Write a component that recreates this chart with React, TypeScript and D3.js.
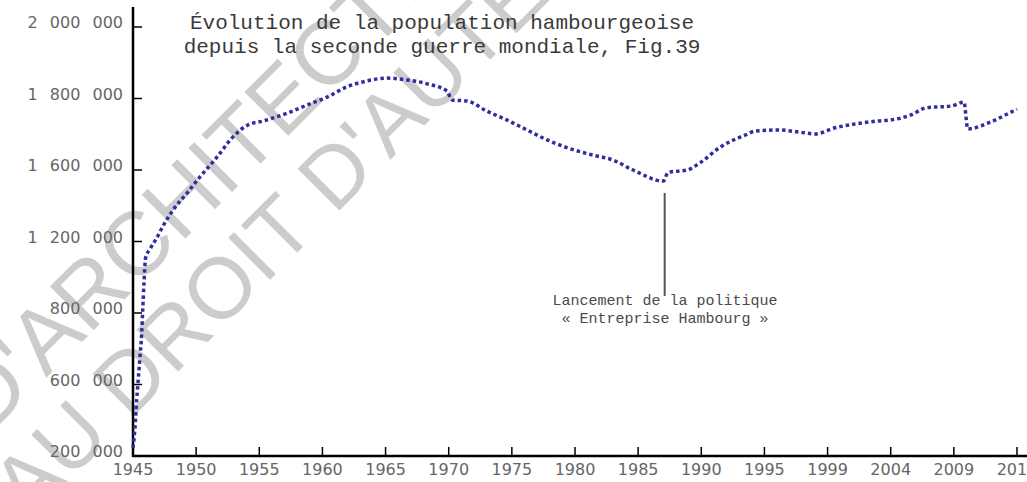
import React from 'react';
import * as d3 from 'd3';

const popYears = [
  1945.0, 1945.16, 1945.29, 1945.4, 1945.55, 1945.69, 1945.77, 1945.87, 1946.0, 1946.35,
  1946.88, 1947.38, 1948.17, 1949.28, 1950.3, 1951.65, 1952.9, 1954.1, 1955.3, 1957.2,
  1958.8, 1960.36, 1961.9, 1963.5, 1965.1, 1966.7, 1968.3, 1969.86, 1970.26, 1971.45,
  1973.0, 1974.6, 1976.2, 1977.8, 1979.4, 1981.4, 1983.0, 1984.6, 1987.0, 1987.36,
  1988.9, 1989.9, 1991.5, 1993.5, 1994.3, 1995.92, 1997.2, 1998.2, 1999.6, 2001.2,
  2003.0, 2004.0, 2005.6, 2006.8, 2008.8, 2009.8, 2010.1, 2011.9, 2013.7, 2014.0,
];
const popValues = [
  245000, 362000, 513000, 607000, 677000, 744000, 817000, 968000, 1108000, 1158000,
  1220000, 1287000, 1376000, 1471000, 1561000, 1636000, 1692000, 1726000, 1737000, 1759000,
  1782000, 1804000, 1832000, 1849000, 1857000, 1852000, 1841000, 1821000, 1796000, 1793000,
  1765000, 1740000, 1712000, 1684000, 1662000, 1642000, 1628000, 1600000, 1538000, 1586000,
  1600000, 1620000, 1664000, 1698000, 1709000, 1712000, 1706000, 1701000, 1718000, 1729000,
  1737000, 1740000, 1754000, 1774000, 1779000, 1790000, 1715000, 1734000, 1765000, 1770000,
];

const xTickYears = [1945, 1950, 1955, 1960, 1965, 1970, 1975, 1980, 1985, 1990, 1995, 1999, 2004, 2009, 2014];
const yTickValues = [200000, 600000, 800000, 1200000, 1600000, 1800000, 2000000];
const yTickLabels = ['200 000', '600 000', '800 000', '1 200 000', '1 600 000', '1 800 000', '2 000 000'];

const titleLines = [
  'Évolution de la population hambourgeoise',
  'depuis la seconde guerre mondiale, Fig.39',
];
const annotationYear = 1987.1;
const annotationLines = ['Lancement de la politique', '« Entreprise Hambourg »'];

const W = 1027;
const H = 482;
const left = 133;
const right = 1017;
const baseY = 456;
const topTickY = 27;

export default function App() {
  const x = d3
    .scaleLinear()
    .domain(xTickYears)
    .range(xTickYears.map((_, i) => left + (i * (right - left)) / (xTickYears.length - 1)));
  const y = d3
    .scaleLinear()
    .domain(yTickValues)
    .range(yTickValues.map((_, i) => baseY - (i * (baseY - topTickY)) / (yTickValues.length - 1)));

  const data = popYears.map((yr, i) => ({ yr, v: popValues[i] }));
  const line = d3
    .line<{ yr: number; v: number }>()
    .x((d) => x(d.yr))
    .y((d) => y(d.v))
    .curve(d3.curveMonotoneX);

  const ax = x(annotationYear);
  const wmFont = '"Liberation Sans", Arial, sans-serif';

  return (
    <svg
      width={W}
      height={H}
      style={{ position: 'absolute', left: 0, top: 0, background: '#fff' }}
      xmlns="http://www.w3.org/2000/svg"
    >
      <rect width={W} height={H} fill="#fff" />
      {/* watermark */}
      <g transform="translate(46,378) rotate(-45)" fill="#cccccc" fontFamily={wmFont}>
        <text x={0} y={0} textAnchor="end" fontSize={90}>ÉCOLE NATIONALE SUPÉRIEURE D'</text>
        <text x={0} y={0} textAnchor="start" fontSize={90}>ARCHITECTURE</text>
        <text x={5} y={89} textAnchor="end" fontSize={86}>DOCUMENT SOUMIS AU</text>
        <text x={29} y={89} textAnchor="start" fontSize={86}>DROIT D'AUTEUR</text>
      </g>

      {/* title */}
      <g fontFamily='"Liberation Mono", "Courier New", monospace' fontSize={21} fill="#3a3a3a" textAnchor="middle">
        {titleLines.map((t, i) => (
          <text key={i} x={442} y={29 + i * 24}>
            {t}
          </text>
        ))}
      </g>

      {/* axes */}
      <line x1={left} x2={left} y1={7} y2={baseY + 1} stroke="#000" strokeWidth={2.5} />
      <line x1={left - 1} x2={W} y1={baseY} y2={baseY} stroke="#000" strokeWidth={2.5} />
      {yTickValues.map((v, i) => (
        <g key={'y' + i}>
          <line x1={left} x2={left + 9} y1={y(v)} y2={y(v)} stroke="#000" strokeWidth={1.5} />
          <text
            x={123}
            y={y(v) + 1}
            textAnchor="end"
            fontFamily='"DejaVu Sans", Verdana, sans-serif'
            fontSize={16}
            fill="#666"
            wordSpacing={7}
          >
            {yTickLabels[i]}
          </text>
        </g>
      ))}
      {xTickYears.map((yr, i) => (
        <g key={'x' + i}>
          {i > 0 && <line x1={x(yr)} x2={x(yr)} y1={baseY} y2={baseY - 9} stroke="#000" strokeWidth={1.5} />}
          <text
            x={x(yr)}
            y={475}
            textAnchor="middle"
            fontFamily='"DejaVu Sans", Verdana, sans-serif'
            fontSize={16}
            fill="#666"
          >
            {yr}
          </text>
        </g>
      ))}

      {/* data line */}
      <path
        d={line(data) || ''}
        fill="none"
        stroke="#2f2f9c"
        strokeWidth={3.5}
        strokeDasharray="3.5 3"
      />

      {/* annotation */}
      <line x1={ax} x2={ax} y1={193} y2={296} stroke="#555" strokeWidth={2} />
      <g fontFamily='"Liberation Mono", "Courier New", monospace' fontSize={15} fill="#4a4a4a" textAnchor="middle">
        {annotationLines.map((t, i) => (
          <text key={i} x={665} y={305 + i * 18}>
            {t}
          </text>
        ))}
      </g>
    </svg>
  );
}
